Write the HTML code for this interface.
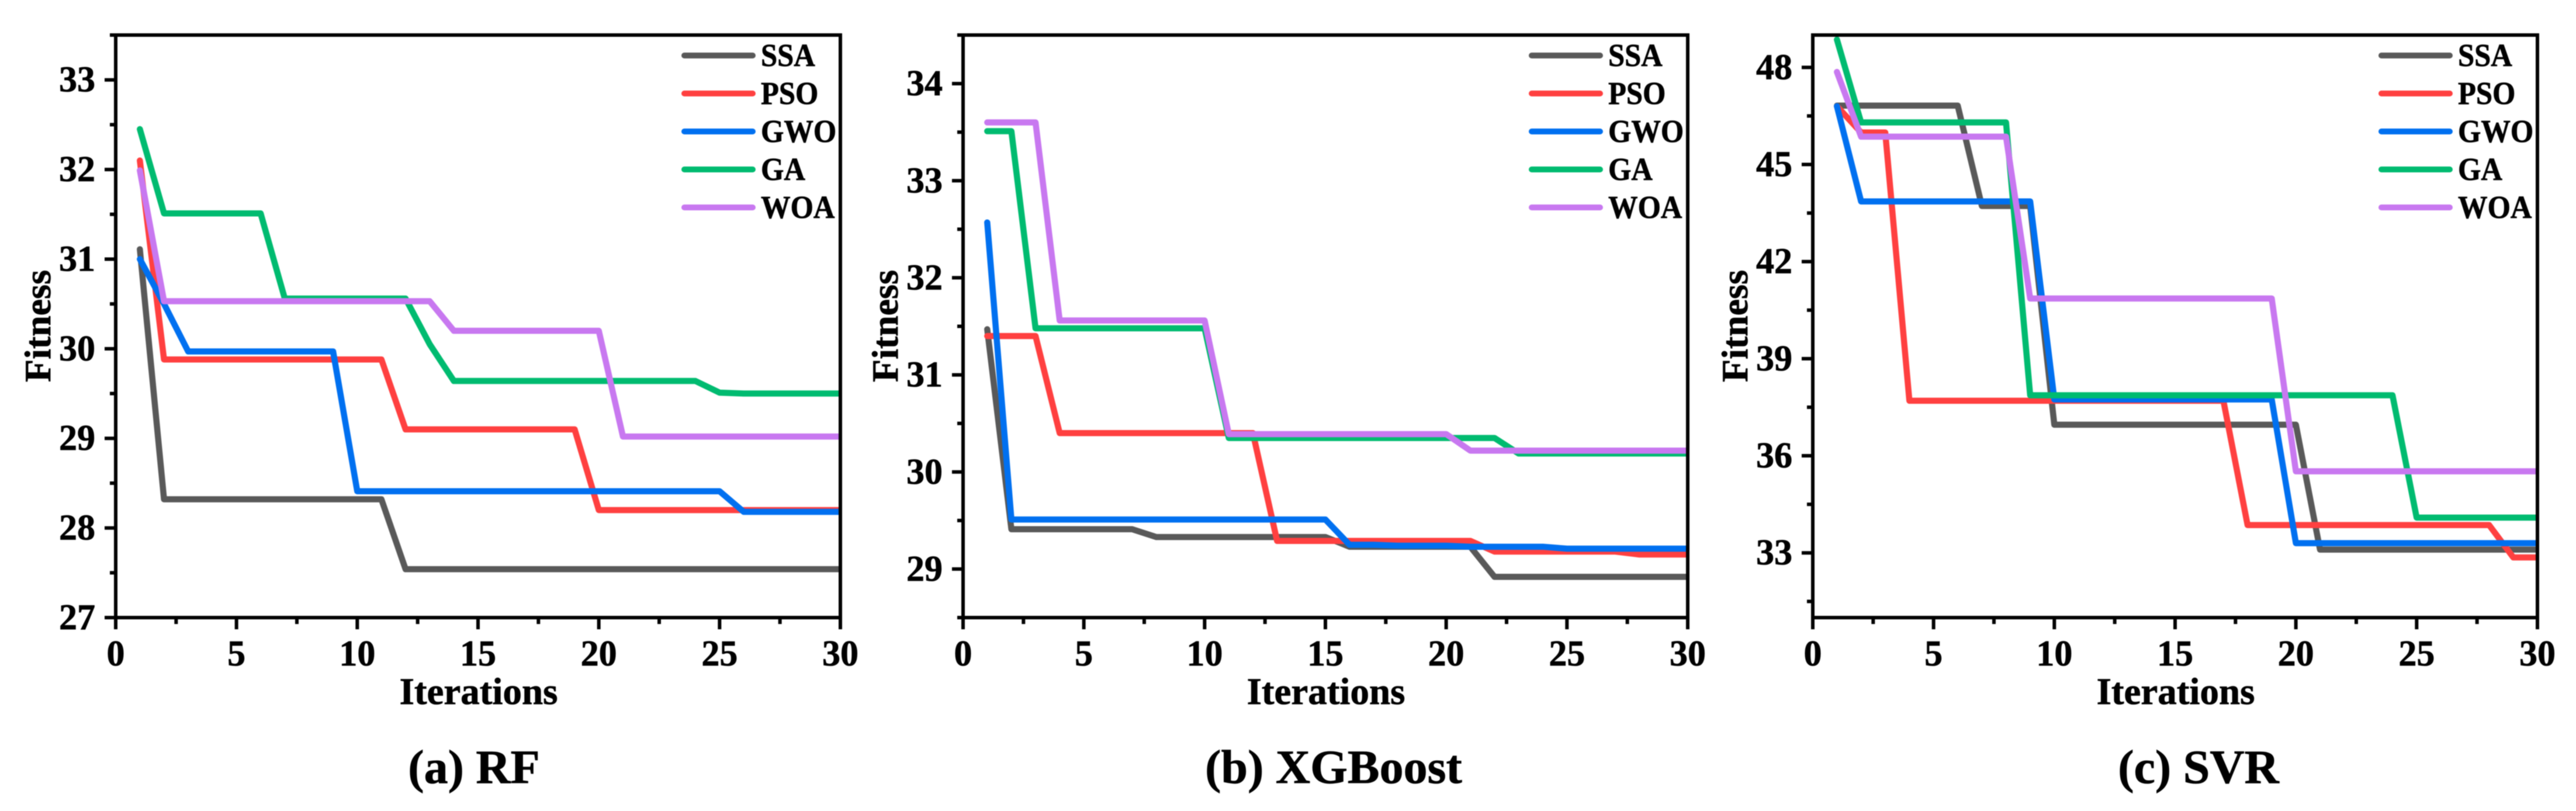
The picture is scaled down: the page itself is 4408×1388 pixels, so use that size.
<!DOCTYPE html>
<html lang="en">
<head>
<meta charset="utf-8">
<title>Fitness convergence curves</title>
<style>
html,body{margin:0;padding:0;background:#fff;width:4408px;height:1388px;overflow:hidden}
svg{display:block;filter:blur(0.9px)}
text{font-family:"Liberation Serif",serif;font-weight:bold;fill:#000;stroke:#000;stroke-width:0.8px}
</style>
</head>
<body>
<svg id="figure" xmlns="http://www.w3.org/2000/svg" width="4408" height="1388" viewBox="0 0 4408 1388"></svg>
<script>
var iterations = [1,2,3,4,5,6,7,8,9,10,11,12,13,14,15,16,17,18,19,20,21,22,23,24,25,26,27,28,29,30];
var algorithmNames = ["SSA","PSO","GWO","GA","WOA"];
var algorithmColors = ["#595959","#ff4040","#0070f0","#00bb70","#c878f0"];
var xTickLabels = [0,5,10,15,20,25,30];
var xMinorTicks = [2.5,7.5,12.5,17.5,22.5,27.5];

var rfTitle = "(a) RF";
var rfDomain = [27,33.5];
var rfTickLabels = [27,28,29,30,31,32,33];
var rfMinorTicks = [27.5,28.5,29.5,30.5,31.5,32.5,33.5];
var rfSSA = [31.11,28.32,28.32,28.32,28.32,28.32,28.32,28.32,28.32,28.32,28.32,27.54,27.54,27.54,27.54,27.54,27.54,27.54,27.54,27.54,27.54,27.54,27.54,27.54,27.54,27.54,27.54,27.54,27.54,27.54];
var rfPSO = [32.10,29.88,29.88,29.88,29.88,29.88,29.88,29.88,29.88,29.88,29.88,29.10,29.10,29.10,29.10,29.10,29.10,29.10,29.10,28.20,28.20,28.20,28.20,28.20,28.20,28.20,28.20,28.20,28.20,28.20];
var rfGWO = [31.00,30.50,29.97,29.97,29.97,29.97,29.97,29.97,29.97,28.41,28.41,28.41,28.41,28.41,28.41,28.41,28.41,28.41,28.41,28.41,28.41,28.41,28.41,28.41,28.41,28.18,28.18,28.18,28.18,28.18];
var rfGA = [32.45,31.51,31.51,31.51,31.51,31.51,30.56,30.56,30.56,30.56,30.56,30.56,30.05,29.64,29.64,29.64,29.64,29.64,29.64,29.64,29.64,29.64,29.64,29.64,29.51,29.50,29.50,29.50,29.50,29.50];
var rfWOA = [31.99,30.53,30.53,30.53,30.53,30.53,30.53,30.53,30.53,30.53,30.53,30.53,30.53,30.20,30.20,30.20,30.20,30.20,30.20,30.20,29.02,29.02,29.02,29.02,29.02,29.02,29.02,29.02,29.02,29.02];

var xgbTitle = "(b) XGBoost";
var xgbDomain = [28.5,34.5];
var xgbTickLabels = [29,30,31,32,33,34];
var xgbMinorTicks = [28.5,29.5,30.5,31.5,32.5,33.5,34.5];
var xgbSSA = [31.47,29.41,29.41,29.41,29.41,29.41,29.41,29.33,29.33,29.33,29.33,29.33,29.33,29.33,29.33,29.23,29.23,29.23,29.23,29.23,29.23,28.92,28.92,28.92,28.92,28.92,28.92,28.92,28.92,28.92];
var xgbPSO = [31.40,31.40,31.40,30.40,30.40,30.40,30.40,30.40,30.40,30.40,30.40,30.40,29.29,29.29,29.29,29.29,29.29,29.29,29.29,29.29,29.29,29.18,29.18,29.18,29.18,29.18,29.18,29.15,29.15,29.15];
var xgbGWO = [32.57,29.51,29.51,29.51,29.51,29.51,29.51,29.51,29.51,29.51,29.51,29.51,29.51,29.51,29.51,29.25,29.25,29.24,29.24,29.24,29.23,29.23,29.23,29.23,29.21,29.21,29.21,29.21,29.21,29.21];
var xgbGA = [33.51,33.51,31.48,31.48,31.48,31.48,31.48,31.48,31.48,31.48,30.35,30.35,30.35,30.35,30.35,30.35,30.35,30.35,30.35,30.35,30.35,30.35,30.19,30.19,30.19,30.19,30.19,30.19,30.19,30.19];
var xgbWOA = [33.60,33.60,33.60,31.56,31.56,31.56,31.56,31.56,31.56,31.56,30.39,30.39,30.39,30.39,30.39,30.39,30.39,30.39,30.39,30.39,30.22,30.22,30.22,30.22,30.22,30.22,30.22,30.22,30.22,30.22];

var svrTitle = "(c) SVR";
var svrDomain = [31,49];
var svrTickLabels = [33,36,39,42,45,48];
var svrMinorTicks = [31.5,34.5,37.5,40.5,43.5,46.5];
var svrSSA = [46.82,46.82,46.82,46.82,46.82,46.82,43.72,43.72,43.72,36.96,36.96,36.96,36.96,36.96,36.96,36.96,36.96,36.96,36.96,36.96,33.10,33.10,33.10,33.10,33.10,33.10,33.10,33.10,33.10,33.10];
var svrPSO = [46.80,45.99,45.99,37.70,37.70,37.70,37.70,37.70,37.70,37.70,37.70,37.70,37.70,37.70,37.70,37.70,37.70,33.86,33.86,33.86,33.86,33.86,33.86,33.86,33.86,33.86,33.86,33.86,32.86,32.86];
var svrGWO = [46.80,43.86,43.86,43.86,43.86,43.86,43.86,43.86,43.86,37.74,37.74,37.74,37.74,37.74,37.74,37.74,37.74,37.74,37.74,33.30,33.30,33.30,33.30,33.30,33.30,33.30,33.30,33.30,33.30,33.30];
var svrGA = [48.86,46.30,46.30,46.30,46.30,46.30,46.30,46.30,37.87,37.87,37.87,37.87,37.87,37.87,37.87,37.87,37.87,37.87,37.87,37.87,37.87,37.87,37.87,37.87,34.09,34.09,34.09,34.09,34.09,34.09];
var svrWOA = [47.86,45.86,45.86,45.86,45.86,45.86,45.86,45.86,40.86,40.86,40.86,40.86,40.86,40.86,40.86,40.86,40.86,40.86,40.86,35.52,35.52,35.52,35.52,35.52,35.52,35.52,35.52,35.52,35.52,35.52];

var NS = "http://www.w3.org/2000/svg";
var figure = document.getElementById("figure");
var PLOT_TOP = 60, PLOT_BOTTOM = 1057, PLOT_WIDTH = 1240, X_MAX = 30;

function make(parent, tag, attrs, content) {
  var node = document.createElementNS(NS, tag);
  for (var k in attrs) { node.setAttribute(k, attrs[k]); }
  if (content !== undefined) { node.textContent = content; }
  parent.appendChild(node);
  return node;
}

function drawPanel(key, left, title, titleCenter, domain, yMajor, yMinor, seriesList) {
  var right = left + PLOT_WIDTH;
  function xScale(v) { return left + v / X_MAX * PLOT_WIDTH; }
  function yScale(v) { return PLOT_BOTTOM - (v - domain[0]) / (domain[1] - domain[0]) * (PLOT_BOTTOM - PLOT_TOP); }

  var group = make(figure, "g", {});
  
  

  var clip = make(group, "clipPath", { id: key + "-clip" });
  make(clip, "rect", { x: left, y: PLOT_TOP, width: PLOT_WIDTH, height: PLOT_BOTTOM - PLOT_TOP });
  var lines = make(group, "g", { "clip-path": "url(#" + key + "-clip)" });
  
  

  seriesList.forEach(function (values, s) {
    var pts = values.map(function (v, i) { return xScale(iterations[i]).toFixed(2) + "," + yScale(v).toFixed(2); }).join(" ");
    var line = make(lines, "polyline", { points: pts, fill: "none", stroke: algorithmColors[s], "stroke-width": 10.5, "stroke-linejoin": "round", "stroke-linecap": "round" });
    
    
  });

  var frame = make(group, "rect", { x: left, y: PLOT_TOP, width: PLOT_WIDTH, height: PLOT_BOTTOM - PLOT_TOP, fill: "none", stroke: "#000", "stroke-width": 6 });
  
  

  xTickLabels.forEach(function (v) {
    var tick = make(group, "line", { x1: xScale(v), x2: xScale(v), y1: PLOT_BOTTOM, y2: PLOT_BOTTOM + 20, stroke: "#000", "stroke-width": 6 });
    
    
    var label = make(group, "text", { x: xScale(v), y: 1139, "text-anchor": "middle", "font-size": 62 }, String(v));
    
    
  });
  xMinorTicks.forEach(function (v) {
    var tick = make(group, "line", { x1: xScale(v), x2: xScale(v), y1: PLOT_BOTTOM, y2: PLOT_BOTTOM + 11, stroke: "#000", "stroke-width": 6 });
    
    
  });
  yMajor.forEach(function (v) {
    var tick = make(group, "line", { x1: left - 19, x2: left, y1: yScale(v), y2: yScale(v), stroke: "#000", "stroke-width": 6 });
    
    
    var label = make(group, "text", { x: left - 35, y: yScale(v) + 20, "text-anchor": "end", "font-size": 62 }, String(v));
    
    
  });
  yMinor.forEach(function (v) {
    var tick = make(group, "line", { x1: left - 10, x2: left, y1: yScale(v), y2: yScale(v), stroke: "#000", "stroke-width": 6 });
    
    
  });

  var xTitle = make(group, "text", { x: left + PLOT_WIDTH / 2 + 1, y: 1205, "text-anchor": "middle", "font-size": 65 }, "Iterations");
  
  

  var yTitle = make(group, "text", { transform: "translate(" + (left - 112) + ",558) rotate(-90)", "text-anchor": "middle", "font-size": 64 }, "Fitness");
  
  

  algorithmNames.forEach(function (name, s) {
    var y = 95 + s * 65;
    var swatch = make(group, "line", { x1: right - 267, x2: right - 150, y1: y, y2: y, stroke: algorithmColors[s], "stroke-width": 10, "stroke-linecap": "round" });
    
    
    var entry = make(group, "text", { transform: "translate(" + (right - 136) + "," + (y + 18) + ") scale(0.92,1)", "font-size": 55 }, name);
    
    
  });

  var caption = make(group, "text", { x: titleCenter, y: 1340, "text-anchor": "middle", "font-size": 82 }, title);
  
  
}

drawPanel("rf", 198, rfTitle, 811, rfDomain, rfTickLabels, rfMinorTicks, [rfSSA, rfPSO, rfGWO, rfGA, rfWOA]);
drawPanel("xgboost", 1648, xgbTitle, 2282, xgbDomain, xgbTickLabels, xgbMinorTicks, [xgbSSA, xgbPSO, xgbGWO, xgbGA, xgbWOA]);
drawPanel("svr", 3102, svrTitle, 3762, svrDomain, svrTickLabels, svrMinorTicks, [svrSSA, svrPSO, svrGWO, svrGA, svrWOA]);
</script>
</body>
</html>
